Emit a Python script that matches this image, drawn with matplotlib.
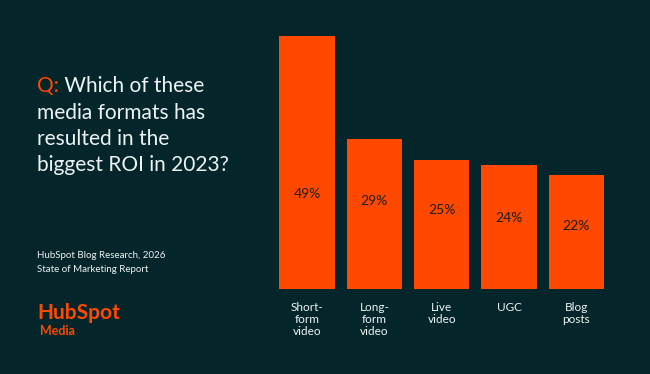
import numpy as np
import matplotlib
matplotlib.use("Agg")
import matplotlib.pyplot as plt

categories = ["Short-\nform\nvideo", "Long-\nform\nvideo", "Live\nvideo", "UGC", "Blog\nposts"]
values = [49, 29, 25, 24, 22]
value_labels = ["49%", "29%", "25%", "24%", "22%"]

# where the percent labels sit inside the bars (data units)
label_y = [18.4, 17.0, 15.3, 13.8, 12.2]

bg = "#04262a"
orange = "#ff4800"
white = "#eef3f3"

plt.rcParams["font.family"] = ["Lato", "DejaVu Sans"]

fig = plt.figure(figsize=(6.5, 3.74), dpi=100, facecolor=bg)
ax = fig.add_axes([0.4206, 0.2273, 0.518, 0.690])
ax.set_facecolor(bg)

x = np.arange(len(values))
ax.bar(x, values, width=0.82, color=orange, zorder=2)
for xi, ly, lab in zip(x, label_y, value_labels):
    ax.text(xi, ly, lab, ha="center", va="center", fontsize=10, color="#1a1f1c")

for xi, cat in zip(x, categories):
    ax.text(xi, -2.6, cat, ha="center", va="top", fontsize=8.5, color=white,
            linespacing=1.1)

ax.set_xlim(-0.5, 4.5)
ax.set_ylim(0, 50)
ax.axis("off")

# question block
fs = 15
q = fig.text(37 / 650, 1 - 86 / 374, "Q:", color=orange, fontsize=fs, va="center")
ax.annotate(" Which of these", xy=(1, 0), xycoords=q, va="bottom", ha="left",
            color=white, fontsize=fs)
for ypix, line in zip([113, 139, 165], ["media formats has", "resulted in the", "biggest ROI in 2023?"]):
    fig.text(37 / 650, 1 - ypix / 374, line, color=white, fontsize=fs, va="center")

fig.text(37 / 650, 1 - 256 / 374, "HubSpot Blog Research, 2026", color=white,
         fontsize=7.0, va="center")
fig.text(37 / 650, 1 - 269 / 374, "State of Marketing Report", color=white,
         fontsize=7.0, va="center")

fig.text(37 / 650, 1 - 313 / 374, "HubSpot", color=orange, fontsize=15,
         fontweight="bold", va="center")
fig.text(40 / 650, 1 - 331 / 374, "Media", color=orange, fontsize=9,
         fontweight="bold", va="center")

fig.savefig("out.png", dpi=100, facecolor=bg)
